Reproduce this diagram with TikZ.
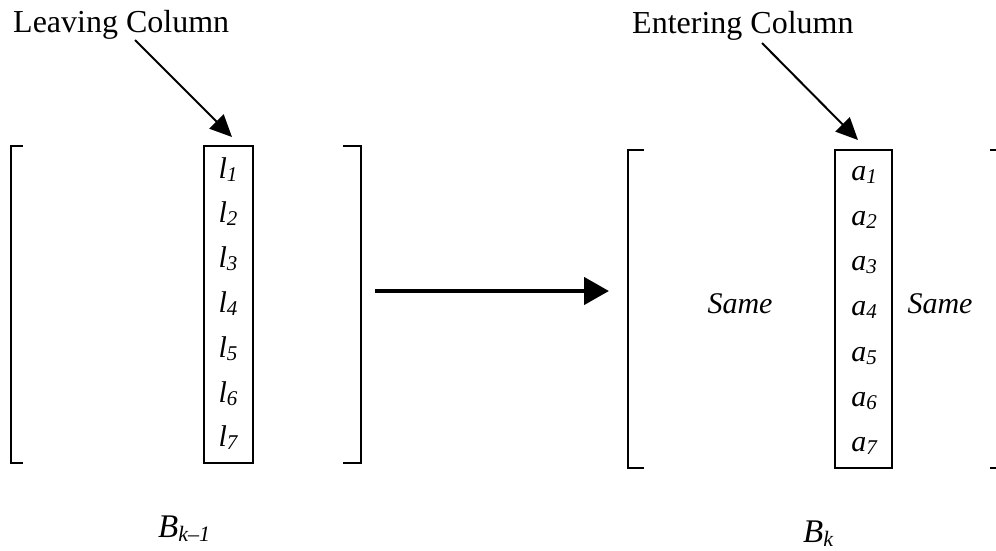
\documentclass[tikz,border=0pt]{standalone}
\usepackage{fontspec}
\setmainfont{Liberation Serif}
\usetikzlibrary{arrows.meta}
\newcommand\subl[2]{\textit{#1}\raisebox{-3pt}{\fontsize{21}{21}\selectfont\itshape #2}}
\begin{document}
\begin{tikzpicture}[x=1pt,y=-1pt,
  head/.style={font=\fontsize{32}{38}\selectfont, anchor=base west, inner sep=0pt},
  entry/.style={font=\fontsize{30}{36}\selectfont, anchor=base, inner sep=0pt},
  bname/.style={font=\fontsize{33}{38}\selectfont, anchor=base west, inner sep=0pt},
  brk/.style={line width=2pt},
  colbox/.style={draw, line width=2pt, inner sep=0pt},
  pointer/.style={line width=2pt, -{Triangle[length=22pt,width=20pt]}},
  bigarrow/.style={line width=4.5pt, -{Triangle[length=25pt,width=27pt]}}]
\useasboundingbox (0,0) rectangle (996,550);
% headings
\node[head] (leave) at (13,32) {Leaving Column};
\node[head] (enter) at (632,33) {Entering Column};
% left matrix
\draw[brk] (23,146) -- (11,146) -- (11,463) -- (23,463);
\draw[brk] (343,146) -- (361,146) -- (361,463) -- (343,463);
\node[colbox, minimum width=49pt, minimum height=317pt] (lbox) at (228.5,304.5) {};
\foreach \i in {1,...,7}{
  \node[entry] (l\i) at (228,{178+44.8*(\i-1)}) {\subl{l}{\i}};
}
% right matrix
\begin{scope}
\clip (600,0) rectangle (996,550);
\draw[brk] (644,150) -- (628,150) -- (628,468) -- (644,468);
\draw[brk] (990,150) -- (999,150) -- (999,468) -- (990,468);
\end{scope}
\node[colbox, minimum width=57pt, minimum height=318pt] (abox) at (863.5,309) {};
\foreach \i in {1,...,7}{
  \node[entry] (a\i) at (864,{180+45.3*(\i-1)}) {\subl{a}{\i}};
}
\node[entry] (sameL) at (740,313) {\textit{Same}};
\node[entry] (sameR) at (940,313) {\textit{Same}};
% matrix names
\node[bname] (bk1) at (158,537) {\textit{B}\raisebox{-4pt}{\fontsize{22}{22}\selectfont\itshape k–1}};
\node[bname] (bk) at (803,542) {\textit{B}\raisebox{-4pt}{\fontsize{22}{22}\selectfont\itshape k}};
% arrows
\coordinate (ls) at (135,40);
\coordinate (le) at (232,137);
\coordinate (es) at (762,43);
\coordinate (ee) at (858,140);
\draw[pointer] (ls) -- (le);
\draw[pointer] (es) -- (ee);
\coordinate (ms) at (375,291);
\coordinate (me) at (609,291);
\draw[bigarrow] (ms) -- (me);
\end{tikzpicture}
\end{document}
